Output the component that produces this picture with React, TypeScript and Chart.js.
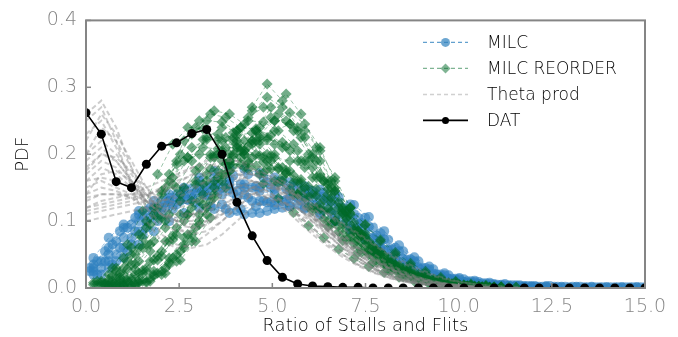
import React, { useEffect, useRef } from "react";
import { Chart, registerables } from "chart.js";

Chart.register(...registerables);

// x bins (four staggered bin grids used by the runs)
const gridA = [0, 0.41, 0.81, 1.22, 1.62, 2.03, 2.43, 2.84, 3.24, 3.65, 4.05, 4.46, 4.86, 5.27, 5.68, 6.08, 6.49, 6.89, 7.3, 7.7, 8.11, 8.51, 8.92, 9.32, 9.73, 10.14, 10.54, 10.95, 11.35, 11.76, 12.16, 12.57, 12.97, 13.38, 13.78, 14.19, 14.59, 15.0];
const gridB = [0.2, 0.61, 1.01, 1.42, 1.82, 2.23, 2.63, 3.04, 3.44, 3.85, 4.25, 4.66, 5.06, 5.47, 5.87, 6.28, 6.68, 7.09, 7.49, 7.9, 8.3, 8.71, 9.11, 9.52, 9.92, 10.33, 10.73, 11.14, 11.54, 11.95, 12.35, 12.76, 13.16, 13.57, 13.97, 14.38, 14.78];
const gridC = [0.1, 0.51, 0.91, 1.32, 1.72, 2.13, 2.53, 2.94, 3.34, 3.75, 4.15, 4.56, 4.96, 5.37, 5.77, 6.18, 6.58, 6.99, 7.39, 7.8, 8.2, 8.61, 9.01, 9.42, 9.82, 10.23, 10.63, 11.04, 11.44, 11.85, 12.25, 12.66, 13.06, 13.47, 13.87, 14.28, 14.68];
const gridD = [0.3, 0.71, 1.11, 1.52, 1.92, 2.33, 2.73, 3.14, 3.54, 3.95, 4.35, 4.76, 5.16, 5.57, 5.97, 6.38, 6.78, 7.19, 7.59, 8.0, 8.4, 8.81, 9.21, 9.62, 10.02, 10.43, 10.83, 11.24, 11.64, 12.05, 12.45, 12.86, 13.26, 13.67, 14.07, 14.48, 14.88];

// DAT (on gridA)
const datPdf = [0.262, 0.23, 0.159, 0.15, 0.185, 0.212, 0.217, 0.231, 0.237, 0.2, 0.128, 0.078, 0.041, 0.016, 0.006, 0.003, 0.002, 0.001, 0.001, 0, 0, 0, 0, 0, 0, 0, 0, 0, 0, 0, 0, 0, 0, 0, 0, 0, 0, 0];

// MILC runs
const milcRunsA: (number | null)[][] = [
  [null, 0.02, 0.04, 0.065, 0.09, 0.11, 0.125, 0.135, 0.14, 0.14, 0.135, 0.13, 0.128, 0.13, 0.135, 0.135, 0.13, 0.12, 0.105, 0.09, 0.072, 0.055, 0.04, 0.028, 0.019, 0.013, 0.009, 0.006, 0.004, 0.003, 0.002, 0.002, 0.001, 0.001, 0.001, 0.001, 0.001, 0.001],
  [null, 0.04, 0.07, 0.095, 0.115, 0.13, 0.14, 0.148, 0.152, 0.15, 0.145, 0.15, 0.158, 0.16, 0.155, 0.145, 0.132, 0.115, 0.095, 0.075, 0.056, 0.04, 0.028, 0.019, 0.013, 0.009, 0.006, 0.004, 0.003, 0.002],
  [null, 0.03, 0.05, 0.075, 0.1, 0.12, 0.135, 0.14, 0.138, 0.125, 0.115, 0.112, 0.115, 0.12, 0.125, 0.125, 0.118, 0.105, 0.09, 0.074, 0.058, 0.043, 0.031, 0.021, 0.014, 0.009, 0.006, 0.004, 0.003, 0.002],
];
const milcRunsB: (number | null)[][] = [
  [0.03, 0.05, 0.075, 0.1, 0.12, 0.135, 0.15, 0.165, 0.175, 0.18, 0.178, 0.172, 0.165, 0.158, 0.152, 0.147, 0.14, 0.125, 0.105, 0.082, 0.06, 0.043, 0.03, 0.02, 0.014, 0.01, 0.007, 0.005, 0.004, 0.003, 0.003, 0.002, 0.002, 0.002, 0.001, 0.001, 0.001],
  [0.045, 0.075, 0.095, 0.11, 0.12, 0.13, 0.14, 0.15, 0.155, 0.155, 0.15, 0.145, 0.14, 0.135, 0.13, 0.12, 0.108, 0.093, 0.077, 0.06, 0.045, 0.032, 0.022, 0.015, 0.01, 0.007, 0.005, 0.003, 0.002, 0.002, 0.001],
  [0.02, 0.03, 0.045, 0.065, 0.085, 0.1, 0.112, 0.12, 0.118, 0.112, 0.11, 0.112, 0.118, 0.122, 0.12, 0.112, 0.1, 0.087, 0.072, 0.057, 0.043, 0.031, 0.021, 0.014, 0.009, 0.006, 0.004, 0.003, 0.002],
  [0.025, 0.04, 0.06, 0.085, 0.11, 0.13, 0.148, 0.16, 0.165, 0.162, 0.155, 0.15, 0.148, 0.145, 0.14, 0.132, 0.12, 0.105, 0.088, 0.07, 0.052, 0.038, 0.026, 0.018, 0.012, 0.008, 0.005, 0.004, 0.003, 0.002, 0.002, 0.001, 0.001, 0.001, 0.001, 0.001, 0.001],
  [0.035, 0.06, 0.09, 0.115, 0.13, 0.14, 0.145, 0.148, 0.15, 0.148, 0.14, 0.13, 0.125, 0.122, 0.118, 0.11, 0.1, 0.088, 0.074, 0.06, 0.046, 0.034, 0.024, 0.016, 0.011, 0.007, 0.005, 0.003, 0.002],
];
const milcRunsC: (number | null)[][] = [
  [0.025, 0.04, 0.06, 0.085, 0.105, 0.12, 0.132, 0.142, 0.15, 0.155, 0.155, 0.152, 0.15, 0.148, 0.145, 0.14, 0.13, 0.115, 0.097, 0.078, 0.058, 0.042, 0.029, 0.02, 0.014, 0.01, 0.007, 0.005, 0.004, 0.003, 0.002, 0.002, 0.002, 0.001, 0.001, 0.001, 0.001],
  [0.03, 0.055, 0.085, 0.105, 0.12, 0.128, 0.13, 0.128, 0.122, 0.118, 0.118, 0.122, 0.128, 0.132, 0.13, 0.124, 0.112, 0.097, 0.08, 0.063, 0.047, 0.034, 0.024, 0.016, 0.011, 0.007, 0.005, 0.003, 0.002],
];
const milcRunsD: (number | null)[][] = [
  [0.02, 0.035, 0.055, 0.08, 0.1, 0.118, 0.132, 0.145, 0.158, 0.168, 0.17, 0.165, 0.158, 0.152, 0.147, 0.142, 0.136, 0.124, 0.106, 0.085, 0.064, 0.046, 0.032, 0.022, 0.015, 0.011, 0.008, 0.006, 0.004, 0.003, 0.003, 0.002, 0.002, 0.001, 0.001, 0.001, 0.001],
  [0.04, 0.065, 0.09, 0.108, 0.118, 0.125, 0.132, 0.14, 0.145, 0.142, 0.135, 0.13, 0.132, 0.138, 0.14, 0.136, 0.126, 0.11, 0.092, 0.073, 0.055, 0.04, 0.028, 0.019, 0.013, 0.009, 0.006, 0.004, 0.003, 0.002],
];

// MILC REORDER runs
const reorderRunsA: (number | null)[][] = [
  [null, 0.01, 0.03, 0.06, 0.1, 0.145, 0.185, 0.21, 0.222, 0.22, 0.21, 0.195, 0.178, 0.16, 0.14, 0.12, 0.1, 0.08, 0.062, 0.046, 0.033, 0.023, 0.015, 0.01, 0.006, 0.004, 0.002, 0.001],
  [null, null, 0.002, 0.004, 0.01, 0.025, 0.05, 0.08, 0.12, 0.17, 0.22, 0.27, 0.305, 0.28, 0.24, 0.2, 0.16, 0.12, 0.085, 0.058, 0.038, 0.024, 0.015, 0.009, 0.005, 0.003, 0.002, 0.001],
  [null, 0.005, 0.015, 0.035, 0.065, 0.105, 0.15, 0.19, 0.225, 0.24, 0.235, 0.22, 0.2, 0.18, 0.16, 0.14, 0.118, 0.095, 0.073, 0.054, 0.038, 0.026, 0.017, 0.011, 0.007, 0.004, 0.002, 0.001],
  [null, null, 0.006, 0.015, 0.03, 0.055, 0.09, 0.13, 0.17, 0.205, 0.228, 0.232, 0.225, 0.21, 0.19, 0.165, 0.14, 0.112, 0.086, 0.063, 0.044, 0.03, 0.02, 0.013, 0.008, 0.005, 0.003, 0.002, 0.001],
  [null, null, null, 0.003, 0.008, 0.02, 0.04, 0.07, 0.11, 0.16, 0.215, 0.265, 0.285, 0.27, 0.235, 0.195, 0.155, 0.118, 0.086, 0.06, 0.04, 0.026, 0.016, 0.01, 0.006, 0.003, 0.002, 0.001],
  [null, 0.008, 0.025, 0.05, 0.09, 0.14, 0.19, 0.23, 0.25, 0.248, 0.235, 0.215, 0.19, 0.165, 0.14, 0.115, 0.092, 0.071, 0.053, 0.038, 0.026, 0.017, 0.011, 0.007, 0.004, 0.002, 0.001],
  [null, null, 0.005, 0.012, 0.025, 0.048, 0.08, 0.12, 0.16, 0.19, 0.21, 0.22, 0.222, 0.218, 0.205, 0.18, 0.148, 0.112, 0.08, 0.055, 0.036, 0.023, 0.014, 0.008, 0.005, 0.003, 0.001],
];
const reorderRunsB: (number | null)[][] = [
  [0.005, 0.012, 0.03, 0.06, 0.11, 0.17, 0.22, 0.25, 0.265, 0.26, 0.245, 0.225, 0.2, 0.175, 0.15, 0.125, 0.1, 0.076, 0.056, 0.04, 0.027, 0.018, 0.012, 0.008, 0.005, 0.003, 0.002, 0.001],
  [null, 0.003, 0.006, 0.012, 0.025, 0.045, 0.075, 0.11, 0.15, 0.19, 0.22, 0.24, 0.25, 0.245, 0.225, 0.19, 0.15, 0.11, 0.078, 0.052, 0.034, 0.022, 0.014, 0.009, 0.005, 0.003, 0.002, 0.001],
  [null, null, 0.003, 0.008, 0.018, 0.035, 0.06, 0.095, 0.135, 0.175, 0.205, 0.23, 0.25, 0.262, 0.245, 0.21, 0.16, 0.112, 0.075, 0.05, 0.032, 0.02, 0.012, 0.008, 0.005, 0.003, 0.002, 0.001],
  [0.008, 0.02, 0.045, 0.08, 0.12, 0.16, 0.19, 0.2, 0.198, 0.19, 0.18, 0.17, 0.16, 0.148, 0.135, 0.118, 0.1, 0.082, 0.064, 0.048, 0.035, 0.024, 0.016, 0.01, 0.006, 0.004, 0.002, 0.001],
  [null, 0.008, 0.02, 0.04, 0.07, 0.11, 0.15, 0.18, 0.195, 0.2, 0.2, 0.198, 0.195, 0.19, 0.18, 0.165, 0.145, 0.12, 0.094, 0.07, 0.05, 0.034, 0.022, 0.014, 0.009, 0.005, 0.003, 0.002, 0.001],
  [null, 0.004, 0.01, 0.022, 0.042, 0.07, 0.1, 0.13, 0.16, 0.185, 0.205, 0.215, 0.215, 0.205, 0.19, 0.17, 0.145, 0.12, 0.095, 0.072, 0.053, 0.037, 0.025, 0.016, 0.01, 0.006, 0.004, 0.002, 0.001],
  [null, null, 0.004, 0.009, 0.02, 0.038, 0.065, 0.1, 0.14, 0.175, 0.2, 0.22, 0.235, 0.245, 0.235, 0.205, 0.165, 0.12, 0.082, 0.054, 0.034, 0.021, 0.013, 0.008, 0.004, 0.002, 0.001],
];
const reorderRunsC: (number | null)[][] = [
  [null, 0.008, 0.022, 0.05, 0.095, 0.15, 0.2, 0.24, 0.26, 0.255, 0.24, 0.22, 0.198, 0.172, 0.146, 0.12, 0.095, 0.072, 0.053, 0.038, 0.026, 0.017, 0.011, 0.007, 0.004, 0.002, 0.001],
  [null, null, 0.003, 0.006, 0.014, 0.03, 0.055, 0.09, 0.13, 0.17, 0.205, 0.235, 0.255, 0.25, 0.225, 0.19, 0.15, 0.112, 0.08, 0.055, 0.036, 0.023, 0.014, 0.008, 0.005, 0.003, 0.001],
  [null, 0.006, 0.016, 0.036, 0.065, 0.1, 0.14, 0.175, 0.2, 0.21, 0.208, 0.2, 0.19, 0.176, 0.158, 0.138, 0.115, 0.09, 0.068, 0.05, 0.035, 0.024, 0.016, 0.01, 0.006, 0.003, 0.002],
  [null, null, 0.008, 0.02, 0.04, 0.07, 0.11, 0.155, 0.195, 0.225, 0.24, 0.238, 0.228, 0.212, 0.19, 0.165, 0.135, 0.105, 0.078, 0.055, 0.038, 0.025, 0.016, 0.01, 0.006, 0.003, 0.002],
  [null, null, null, 0.004, 0.01, 0.022, 0.042, 0.07, 0.105, 0.15, 0.195, 0.235, 0.27, 0.29, 0.26, 0.21, 0.16, 0.115, 0.078, 0.05, 0.032, 0.02, 0.012, 0.007, 0.004, 0.002, 0.001],
  [null, 0.004, 0.012, 0.028, 0.055, 0.09, 0.13, 0.16, 0.178, 0.185, 0.185, 0.182, 0.178, 0.172, 0.162, 0.148, 0.128, 0.104, 0.08, 0.058, 0.04, 0.027, 0.017, 0.011, 0.006, 0.003, 0.001],
];
const reorderRunsD: (number | null)[][] = [
  [0.006, 0.018, 0.04, 0.075, 0.12, 0.165, 0.195, 0.21, 0.208, 0.198, 0.186, 0.172, 0.157, 0.14, 0.122, 0.103, 0.084, 0.066, 0.05, 0.036, 0.025, 0.017, 0.011, 0.007, 0.004, 0.002, 0.001],
  [null, 0.004, 0.01, 0.022, 0.042, 0.072, 0.11, 0.155, 0.2, 0.232, 0.25, 0.248, 0.235, 0.215, 0.19, 0.16, 0.128, 0.097, 0.07, 0.048, 0.032, 0.02, 0.012, 0.007, 0.004, 0.002, 0.001],
  [null, 0.01, 0.028, 0.06, 0.105, 0.155, 0.195, 0.222, 0.23, 0.225, 0.212, 0.196, 0.178, 0.158, 0.137, 0.115, 0.093, 0.072, 0.054, 0.039, 0.027, 0.018, 0.011, 0.007, 0.004, 0.002, 0.001],
  [null, null, 0.004, 0.01, 0.022, 0.045, 0.08, 0.125, 0.175, 0.22, 0.255, 0.27, 0.26, 0.235, 0.2, 0.16, 0.12, 0.085, 0.057, 0.037, 0.023, 0.014, 0.008, 0.005, 0.003, 0.001],
  [null, 0.005, 0.012, 0.026, 0.048, 0.078, 0.11, 0.14, 0.165, 0.182, 0.19, 0.188, 0.18, 0.168, 0.152, 0.132, 0.11, 0.088, 0.067, 0.049, 0.034, 0.023, 0.015, 0.009, 0.005, 0.003, 0.001],
  [0.01, 0.03, 0.065, 0.115, 0.17, 0.215, 0.24, 0.238, 0.222, 0.2, 0.178, 0.156, 0.134, 0.113, 0.093, 0.075, 0.058, 0.044, 0.032, 0.023, 0.016, 0.01, 0.006, 0.004, 0.002, 0.001],
];

// Theta prod runs (on gridA)
const thetaRuns: number[][] = [
  [0.26, 0.28, 0.24, 0.18, 0.12, 0.08, 0.065, 0.06, 0.065, 0.08, 0.1, 0.12, 0.135, 0.14, 0.13, 0.11, 0.09, 0.07, 0.05, 0.035, 0.025, 0.017, 0.011, 0.007, 0.005, 0.003, 0.002, 0.001],
  [0.22, 0.26, 0.23, 0.19, 0.15, 0.12, 0.1, 0.09, 0.1, 0.12, 0.14, 0.15, 0.145, 0.13, 0.11, 0.09, 0.07, 0.05, 0.035, 0.024, 0.016, 0.01, 0.006, 0.004, 0.002, 0.001],
  [0.18, 0.2, 0.19, 0.16, 0.13, 0.11, 0.1, 0.1, 0.11, 0.13, 0.15, 0.16, 0.155, 0.14, 0.12, 0.1, 0.08, 0.06, 0.045, 0.03, 0.02, 0.013, 0.008, 0.005, 0.003, 0.002, 0.001],
  [0.15, 0.16, 0.15, 0.14, 0.13, 0.125, 0.125, 0.13, 0.14, 0.15, 0.155, 0.15, 0.14, 0.125, 0.105, 0.085, 0.065, 0.05, 0.035, 0.025, 0.016, 0.01, 0.006, 0.004, 0.002, 0.001],
  [0.12, 0.13, 0.135, 0.14, 0.15, 0.16, 0.17, 0.18, 0.185, 0.18, 0.17, 0.16, 0.145, 0.13, 0.11, 0.09, 0.07, 0.055, 0.04, 0.028, 0.019, 0.012, 0.008, 0.005, 0.003, 0.002, 0.001],
  [0.11, 0.115, 0.12, 0.125, 0.13, 0.14, 0.155, 0.17, 0.18, 0.19, 0.19, 0.185, 0.175, 0.16, 0.14, 0.12, 0.1, 0.08, 0.06, 0.045, 0.032, 0.022, 0.015, 0.01, 0.006, 0.004, 0.002, 0.001],
  [0.2, 0.22, 0.2, 0.17, 0.14, 0.115, 0.1, 0.095, 0.1, 0.11, 0.12, 0.125, 0.125, 0.12, 0.11, 0.1, 0.085, 0.07, 0.055, 0.04, 0.03, 0.02, 0.013, 0.008, 0.005, 0.003, 0.002, 0.001],
  [0.14, 0.15, 0.145, 0.135, 0.12, 0.11, 0.105, 0.11, 0.125, 0.145, 0.165, 0.175, 0.17, 0.155, 0.135, 0.11, 0.085, 0.065, 0.045, 0.03, 0.02, 0.012, 0.007, 0.004, 0.002, 0.001],
  [0.25, 0.27, 0.22, 0.15, 0.1, 0.07, 0.06, 0.065, 0.08, 0.1, 0.12, 0.14, 0.15, 0.145, 0.13, 0.11, 0.085, 0.065, 0.045, 0.03, 0.02, 0.012, 0.007, 0.004, 0.002, 0.001],
  [0.16, 0.18, 0.17, 0.15, 0.13, 0.12, 0.12, 0.125, 0.135, 0.145, 0.15, 0.145, 0.135, 0.12, 0.1, 0.08, 0.062, 0.046, 0.033, 0.023, 0.015, 0.01, 0.006, 0.004, 0.002, 0.001],
  [0.13, 0.14, 0.14, 0.14, 0.14, 0.145, 0.15, 0.16, 0.17, 0.175, 0.175, 0.17, 0.16, 0.145, 0.125, 0.105, 0.085, 0.068, 0.052, 0.038, 0.027, 0.018, 0.012, 0.008, 0.005, 0.003, 0.002, 0.001],
  [0.19, 0.21, 0.19, 0.16, 0.13, 0.11, 0.1, 0.105, 0.12, 0.14, 0.16, 0.17, 0.165, 0.15, 0.13, 0.105, 0.08, 0.06, 0.04, 0.028, 0.018, 0.011, 0.007, 0.004, 0.002, 0.001],
  [0.1, 0.105, 0.11, 0.115, 0.12, 0.13, 0.14, 0.15, 0.16, 0.165, 0.17, 0.17, 0.165, 0.155, 0.14, 0.125, 0.11, 0.095, 0.08, 0.065, 0.05, 0.037, 0.026, 0.018, 0.012, 0.008, 0.005, 0.003, 0.002, 0.001],
  [0.17, 0.19, 0.18, 0.155, 0.13, 0.11, 0.095, 0.09, 0.095, 0.11, 0.13, 0.15, 0.16, 0.16, 0.15, 0.13, 0.11, 0.09, 0.07, 0.052, 0.037, 0.025, 0.016, 0.01, 0.006, 0.004, 0.002, 0.001],
  [0.14, 0.17, 0.175, 0.16, 0.14, 0.12, 0.11, 0.11, 0.12, 0.135, 0.15, 0.158, 0.155, 0.145, 0.128, 0.108, 0.088, 0.068, 0.05, 0.036, 0.025, 0.016, 0.01, 0.006, 0.003, 0.002, 0.001],
  [0.23, 0.25, 0.21, 0.16, 0.12, 0.095, 0.085, 0.085, 0.095, 0.115, 0.135, 0.15, 0.155, 0.15, 0.135, 0.115, 0.092, 0.07, 0.05, 0.035, 0.024, 0.016, 0.01, 0.006, 0.003, 0.002, 0.001],
  [0.12, 0.125, 0.13, 0.135, 0.14, 0.15, 0.165, 0.18, 0.19, 0.195, 0.19, 0.178, 0.162, 0.142, 0.12, 0.098, 0.078, 0.06, 0.045, 0.032, 0.022, 0.014, 0.009, 0.005, 0.003, 0.002, 0.001],
  [0.16, 0.165, 0.16, 0.15, 0.14, 0.132, 0.128, 0.13, 0.135, 0.14, 0.142, 0.14, 0.135, 0.128, 0.118, 0.105, 0.09, 0.075, 0.06, 0.046, 0.034, 0.024, 0.016, 0.01, 0.006, 0.004, 0.002, 0.001],
  [0.2, 0.24, 0.22, 0.18, 0.14, 0.11, 0.09, 0.08, 0.085, 0.1, 0.12, 0.14, 0.15, 0.148, 0.138, 0.12, 0.1, 0.08, 0.06, 0.043, 0.03, 0.02, 0.013, 0.008, 0.005, 0.003, 0.001],
  [0.135, 0.14, 0.14, 0.135, 0.13, 0.13, 0.135, 0.145, 0.16, 0.172, 0.18, 0.178, 0.17, 0.155, 0.136, 0.115, 0.094, 0.075, 0.058, 0.043, 0.031, 0.021, 0.014, 0.009, 0.005, 0.003, 0.001],
  [0.175, 0.2, 0.195, 0.175, 0.15, 0.13, 0.115, 0.11, 0.115, 0.125, 0.135, 0.14, 0.138, 0.13, 0.118, 0.104, 0.088, 0.072, 0.056, 0.042, 0.03, 0.02, 0.013, 0.008, 0.005, 0.003, 0.001],
  [0.115, 0.12, 0.125, 0.13, 0.138, 0.148, 0.16, 0.168, 0.172, 0.17, 0.165, 0.16, 0.155, 0.148, 0.138, 0.126, 0.112, 0.097, 0.082, 0.067, 0.053, 0.04, 0.029, 0.02, 0.013, 0.008, 0.005, 0.003, 0.001],
];

const legendLabels = ["MILC", "MILC REORDER", "Theta prod", "DAT"];
const xTickLabels = ["0.0", "2.5", "5.0", "7.5", "10.0", "12.5", "15.0"];
const yTickLabels = ["0.0", "0.1", "0.2", "0.3", "0.4"];

const FONT = "'DejaVu Sans', sans-serif";
const BLUE = "rgba(45,128,190,0.62)";
const BLUE_LINE = "rgba(45,128,190,0.45)";
const GREEN = "rgba(0,105,40,0.55)";
const GREEN_LINE = "rgba(0,105,40,0.4)";
const GRAY_LINE = "rgba(130,130,130,0.4)";
const AXIS_GRAY = "#858585";

const toPts = (xs: number[], ys: (number | null)[]) => ys.map((y, i) => ({ x: xs[i], y }));

const framePlugin = {
  id: "frame",
  afterDraw(chart: any) {
    const { ctx, chartArea } = chart;
    const xs = chart.scales.x;
    const ys = chart.scales.y;
    ctx.save();
    ctx.strokeStyle = AXIS_GRAY;
    ctx.lineWidth = 1.5;
    xs.ticks.forEach((t: any) => {
      const px = xs.getPixelForValue(t.value);
      ctx.beginPath();
      ctx.moveTo(px, chartArea.bottom);
      ctx.lineTo(px, chartArea.bottom - 5);
      ctx.stroke();
    });
    ys.ticks.forEach((t: any) => {
      const py = ys.getPixelForValue(t.value);
      ctx.beginPath();
      ctx.moveTo(chartArea.left, py);
      ctx.lineTo(chartArea.left + 5, py);
      ctx.stroke();
    });
    ctx.lineWidth = 2;
    ctx.strokeRect(chartArea.left, chartArea.top, chartArea.right - chartArea.left, chartArea.bottom - chartArea.top);
    ctx.restore();
  },
};

const legendPlugin = {
  id: "customLegend",
  afterDraw(chart: any) {
    const { ctx, chartArea } = chart;
    const x0 = chartArea.right - 222;
    const x1 = x0 + 45;
    const xm = (x0 + x1) / 2;
    const tx = x0 + 64;
    ctx.save();
    legendLabels.forEach((label, i) => {
      const y = chartArea.top + 22 + i * 26;
      ctx.beginPath();
      if (i === 0) { ctx.strokeStyle = "rgba(45,128,190,0.75)"; ctx.setLineDash([4, 3]); ctx.lineWidth = 1.2; }
      else if (i === 1) { ctx.strokeStyle = "rgba(0,105,40,0.5)"; ctx.setLineDash([4, 3]); ctx.lineWidth = 1.2; }
      else if (i === 2) { ctx.strokeStyle = "rgba(150,150,150,0.45)"; ctx.setLineDash([4, 3]); ctx.lineWidth = 1.5; }
      else { ctx.strokeStyle = "#000"; ctx.setLineDash([]); ctx.lineWidth = 1.6; }
      ctx.moveTo(x0, y);
      ctx.lineTo(x1, y);
      ctx.stroke();
      ctx.setLineDash([]);
      if (i === 0) {
        ctx.fillStyle = "rgba(45,128,190,0.7)";
        ctx.beginPath(); ctx.arc(xm, y, 4.5, 0, Math.PI * 2); ctx.fill();
      } else if (i === 1) {
        ctx.fillStyle = "rgba(0,105,40,0.5)";
        ctx.beginPath(); ctx.moveTo(xm, y - 5); ctx.lineTo(xm + 5, y); ctx.lineTo(xm, y + 5); ctx.lineTo(xm - 5, y); ctx.closePath(); ctx.fill();
      } else if (i === 3) {
        ctx.fillStyle = "#000";
        ctx.beginPath(); ctx.arc(xm, y, 3.5, 0, Math.PI * 2); ctx.fill();
      }
      ctx.fillStyle = "#000";
      ctx.font = `200 17px ${FONT}`;
      ctx.textBaseline = "middle";
      ctx.textAlign = "left";
      ctx.fillText(label, tx, y + 1);
    });
    ctx.restore();
  },
};

export default function App() {
  const ref = useRef<HTMLCanvasElement | null>(null);
  useEffect(() => {
    if (!ref.current) return;
    const datasets: any[] = [];
    datasets.push({
      label: "DAT", data: toPts(gridA, datPdf), order: 0, clip: 0,
      borderColor: "#000", backgroundColor: "#000", borderWidth: 1.6,
      pointRadius: 4.5, pointBorderWidth: 0, pointBackgroundColor: "#000",
    });
    thetaRuns.forEach((r) => datasets.push({
      label: "Theta prod", data: toPts(gridA, r), order: 1, clip: 0,
      borderColor: GRAY_LINE, borderWidth: 2, borderDash: [5, 3], pointRadius: 0,
    }));
    const addReorder = (xs: number[], r: (number | null)[]) => datasets.push({
      label: "MILC REORDER", data: toPts(xs, r), order: 2, clip: 0,
      borderColor: GREEN_LINE, borderWidth: 1, borderDash: [4, 3],
      pointStyle: "rectRot", pointRadius: 5.5, pointBorderWidth: 0, pointBackgroundColor: GREEN,
    });
    reorderRunsA.forEach((r) => addReorder(gridA, r));
    reorderRunsB.forEach((r) => addReorder(gridB, r));
    reorderRunsC.forEach((r) => addReorder(gridC, r));
    reorderRunsD.forEach((r) => addReorder(gridD, r));
    const addMilc = (xs: number[], r: (number | null)[]) => datasets.push({
      label: "MILC", data: toPts(xs, r), order: 3, clip: 0,
      borderColor: BLUE_LINE, borderWidth: 1, borderDash: [4, 3],
      pointStyle: "circle", pointRadius: 5, pointBorderWidth: 0, pointBackgroundColor: BLUE,
    });
    milcRunsA.forEach((r) => addMilc(gridA, r));
    milcRunsB.forEach((r) => addMilc(gridB, r));
    milcRunsC.forEach((r) => addMilc(gridC, r));
    milcRunsD.forEach((r) => addMilc(gridD, r));

    const chart = new Chart(ref.current, {
      type: "line",
      data: { datasets },
      options: {
        responsive: false,
        animation: false,
        events: [],
        layout: { padding: { left: 0, right: 33, top: 15, bottom: 0 } },
        plugins: { legend: { display: false }, tooltip: { enabled: false } },
        scales: {
          x: {
            type: "linear", min: 0, max: 15,
            grid: { display: false, drawTicks: false },
            border: { display: false },
            ticks: {
              stepSize: 2.5, padding: 8, color: AXIS_GRAY, maxRotation: 0,
              font: { family: FONT, size: 19, weight: 200 },
              callback: (v: any) => xTickLabels[Math.round(Number(v) / 2.5)] ?? "",
            },
            title: { display: true, text: "Ratio of Stalls and Flits", color: "#000", font: { family: FONT, size: 18, weight: 200 }, padding: { top: 0, bottom: 0 } },
            afterFit: (s: any) => { s.height = 49; },
          },
          y: {
            min: 0, max: 0.4,
            grid: { display: false, drawTicks: false },
            border: { display: false },
            ticks: {
              stepSize: 0.1, padding: 9, color: AXIS_GRAY,
              font: { family: FONT, size: 19, weight: 200 },
              callback: (v: any) => yTickLabels[Math.round(Number(v) * 10)] ?? "",
            },
            title: { display: true, text: "PDF", color: "#000", font: { family: FONT, size: 18, weight: 200 }, padding: { top: 13, bottom: 0 } },
            afterFit: (s: any) => { s.width = 86; },
          },
        },
      },
      plugins: [framePlugin, legendPlugin],
    });
    return () => chart.destroy();
  }, []);
  return (
    <div style={{ position: "fixed", left: 0, top: 0, width: 678, height: 337, background: "#fff" }}>
      <canvas ref={ref} width={678} height={337} style={{ width: 678, height: 337, display: "block" }} />
    </div>
  );
}
